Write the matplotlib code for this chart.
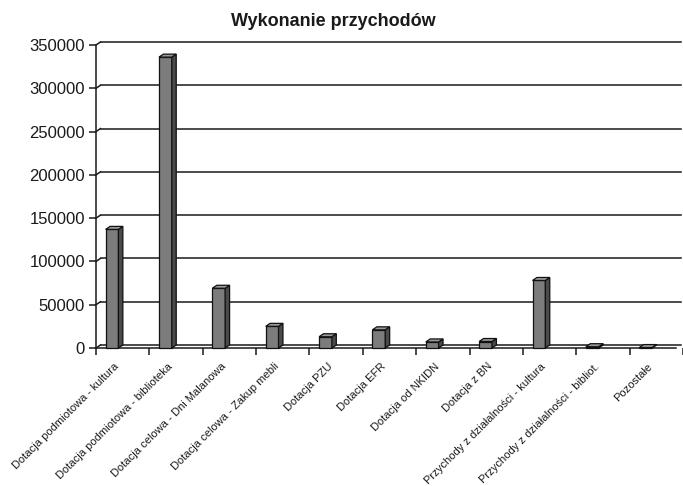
"""
Wykonanie przychodów - 3D-style column chart (Excel look)
"""
import numpy as np, matplotlib
matplotlib.use('Agg')
import matplotlib.pyplot as plt
from matplotlib.patches import Polygon, Rectangle
import matplotlib.transforms as mtransforms

plt.rcParams['font.family'] = ['Liberation Sans', 'DejaVu Sans']

TITLE = 'Wykonanie przychodów'
categories = ['Dotacja podmiotowa - kultura', 'Dotacja podmiotowa - biblioteka',
              'Dotacja celowa - Dni Malanowa', 'Dotacja celowa - Zakup mebli',
              'Dotacja PZU', 'Dotacja EFR', 'Dotacja od NKIDN', 'Dotacja z BN',
              'Przychody z działalności - kultura',
              'Przychody z działalności - bibliot.', 'Pozostałe']
values = [137000, 336000, 69000, 25000, 13000, 21000, 7000, 7500, 78000, 1500, 500]
yticks = [0, 50000, 100000, 150000, 200000, 250000, 300000, 350000]

W, H = 683, 486
fig = plt.figure(figsize=(W / 100, H / 100), dpi=100)
fig.patch.set_facecolor('white')

# plot area in pixels
left_px, right_px, floor_px, top_px = 96, 683, 348, 45
cat_px = 54.0
ax = fig.add_axes([left_px / W, 1 - floor_px / H,
                   (right_px - left_px) / W, (floor_px - top_px) / H])
ymax = 350000
ax.set_xlim(0, (right_px - left_px) / cat_px)
ax.set_ylim(0, ymax)
for s in ax.spines.values():
    s.set_visible(False)

# depth offset of the 3D effect (px -> data units)
dpx, dpy = 4.5, 3.0
ddx = dpx / cat_px
ddy = dpy / (floor_px - top_px) * ymax
back = mtransforms.offset_copy(ax.transData, fig=fig, x=dpx, y=dpy, units='dots')

xr = ax.get_xlim()[1]
# back wall gridlines + connectors to the front axis
for t in yticks:
    ax.plot([0, xr], [t, t], color='#1a1a1a', lw=1.1, transform=back,
            clip_on=False, zorder=1)
    ax.plot([0, ddx], [t, t + ddy], color='#1a1a1a', lw=1.1, clip_on=False, zorder=1)
# front axis lines
ax.plot([0, 0], [0, ymax], color='#1a1a1a', lw=1.1, clip_on=False, zorder=1)
ax.plot([0, xr], [0, 0], color='#1a1a1a', lw=1.1, clip_on=False, zorder=1)

# bars: front, side, top faces
bw, off = 0.24, 0.18
for i, v in enumerate(values):
    x0, x1 = i + off, i + off + bw
    ax.add_patch(Rectangle((x0, 0), bw, v, facecolor='#7c7c7c',
                           edgecolor='#111111', lw=0.9, zorder=3, clip_on=False))
    ax.add_patch(Polygon([(x1, 0), (x1 + ddx, ddy), (x1 + ddx, v + ddy), (x1, v)],
                         facecolor='#4a4a4a', edgecolor='#111111', lw=0.9,
                         zorder=3, clip_on=False))
    ax.add_patch(Polygon([(x0, v), (x1, v), (x1 + ddx, v + ddy), (x0 + ddx, v + ddy)],
                         facecolor='#9a9a9a', edgecolor='#111111', lw=0.9,
                         zorder=3, clip_on=False))

# y axis ticks
ax.set_yticks(yticks)
ax.set_yticklabels([str(t) for t in yticks], fontsize=12, color='#1a1a1a')
ax.tick_params(axis='y', direction='out', length=5, width=1.1, color='#1a1a1a', pad=3)

# x axis: tick marks between categories, labels at centres
n = len(categories)
ax.set_xticks(np.arange(0, n + 1), minor=True)
ax.tick_params(axis='x', which='minor', direction='out', length=5, width=1.1,
               color='#1a1a1a')
ax.set_xticks(np.arange(n) + 0.4)
ax.set_xticklabels(categories, rotation=45, ha='right', va='center',
                   rotation_mode='anchor', fontsize=8, color='#1a1a1a')
ax.tick_params(axis='x', which='major', length=0, pad=12)

fig.text(333 / W, 1 - 22 / H, TITLE, ha='center', va='center',
         fontsize=13, fontweight='bold', color='#1a1a1a')

plt.savefig('out.png', dpi=100, facecolor='white')
plt.close()
print("Saved: out.png")
